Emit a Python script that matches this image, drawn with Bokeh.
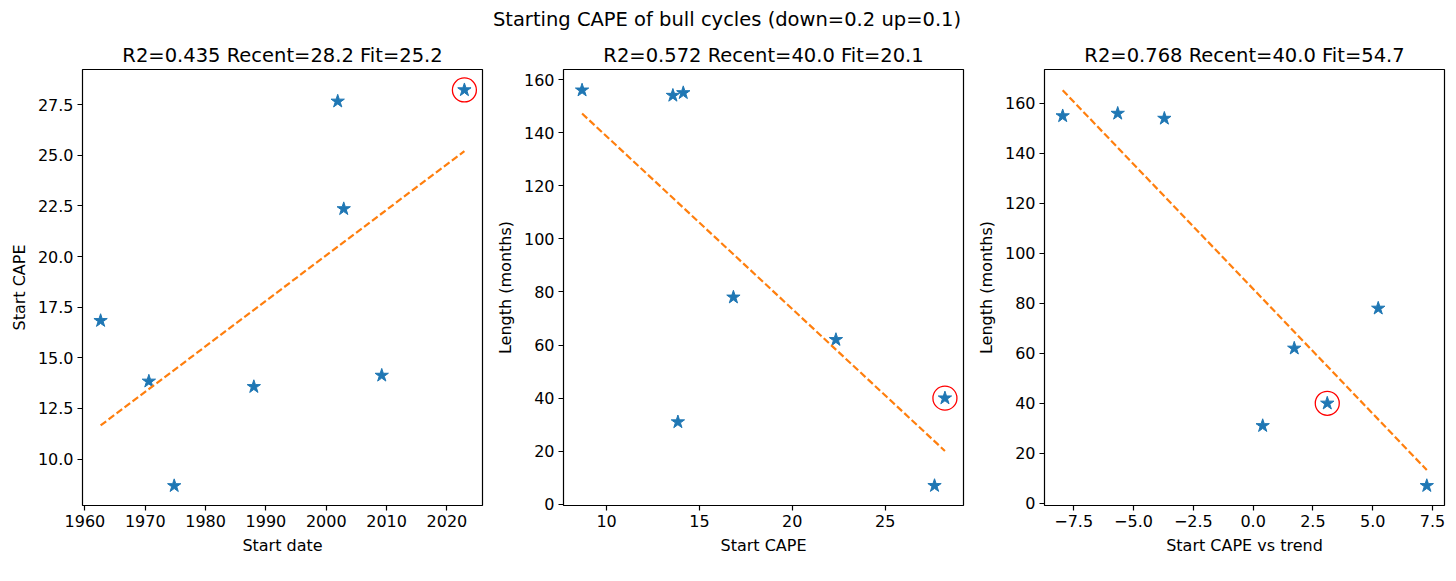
from bokeh.embed import file_html
from bokeh.resources import INLINE
from bokeh.layouts import row, column
from bokeh.models import Range1d, FixedTicker, Title, Div
from bokeh.plotting import figure

# bull cycles (last one is the recent cycle)
start_date = [1962.6, 1970.6, 1974.8, 1988.0, 2001.9, 2002.9, 2009.2, 2022.9]
start_cape = [16.83, 13.84, 8.68, 13.57, 27.66, 22.35, 14.13, 28.22]
length_months = [78, 31, 156, 154, 7, 62, 155, 40]
cape_vs_trend = [5.23, 0.40, -5.66, -3.71, 7.26, 1.72, -7.96, 3.10]

# fitted line end points
fit1_x = [1962.6, 2022.9]
fit1_y = [11.66, 25.2]
fit2_x = [8.68, 28.22]
fit2_y = [147.2, 20.1]
fit3_x = [-7.96, 7.26]
fit3_y = [165.3, 13.3]

titles = [
    "R2=0.435 Recent=28.2 Fit=25.2",
    "R2=0.572 Recent=40.0 Fit=20.1",
    "R2=0.768 Recent=40.0 Fit=54.7",
]
suptitle = "Starting CAPE of bull cycles (down=0.2 up=0.1)"

x1_ticks = [1960, 1970, 1980, 1990, 2000, 2010, 2020]
y1_ticks = [10.0, 12.5, 15.0, 17.5, 20.0, 22.5, 25.0, 27.5]
y1_labels = ["10.0", "12.5", "15.0", "17.5", "20.0", "22.5", "25.0", "27.5"]
x2_ticks = [10, 15, 20, 25]
len_ticks = [0, 20, 40, 60, 80, 100, 120, 140, 160]
x3_ticks = [-7.5, -5.0, -2.5, 0.0, 2.5, 5.0, 7.5]
x3_labels = ["\u22127.5", "\u22125.0", "\u22122.5", "0.0", "2.5", "5.0", "7.5"]

FONT = "DejaVu Sans"
BLUE = "#1f77b4"
ORANGE = "#ff7f0e"
TOP = 38


def panel(xs, ys, fx, fy, title, xlabel, ylabel, xr, yr, left, right):
    p = figure(
        frame_width=400, frame_height=436,
        x_range=Range1d(*xr), y_range=Range1d(*yr),
        min_border_left=left, min_border_right=right,
        min_border_top=68 - TOP, min_border_bottom=60,
        output_backend="svg", toolbar_location=None,
    )
    p.add_layout(Title(text=title, align="center", text_font=FONT,
                       text_font_size="19.5px", text_font_style="normal",
                       text_color="black", standoff=6), "above")
    p.grid.visible = False
    p.outline_line_color = "black"
    p.outline_line_alpha = 1
    p.outline_line_width = 1.2
    for ax in (p.xaxis[0], p.yaxis[0]):
        ax.axis_line_color = None
        ax.major_tick_in = 0
        ax.major_tick_out = 5
        ax.major_tick_line_width = 1.2
        ax.minor_tick_line_color = None
        ax.major_label_text_font = FONT
        ax.major_label_text_font_size = "16px"
        ax.major_label_text_color = "black"
        ax.major_label_standoff = 4
        ax.axis_label_text_font = FONT
        ax.axis_label_text_font_size = "16px"
        ax.axis_label_text_font_style = "normal"
        ax.axis_label_text_color = "black"
        ax.axis_label_standoff = 6
    p.xaxis.axis_label = xlabel
    p.yaxis.axis_label = ylabel

    p.scatter(xs, ys, marker="star", size=14, color=BLUE)
    p.line(fx, fy, line_color=ORANGE, line_width=2.2, line_dash="7 3")
    p.scatter([xs[-1]], [ys[-1]], marker="circle", size=24,
              fill_color=None, line_color="red", line_width=1.3)
    return p


p1 = panel(start_date, start_cape, fit1_x, fit1_y, titles[0],
           "Start date", "Start CAPE", (1959.6, 2025.9), (7.71, 29.23), 82, 10)
p1.xaxis.ticker = FixedTicker(ticks=x1_ticks)
p1.yaxis.ticker = FixedTicker(ticks=y1_ticks)
p1.yaxis.major_label_overrides = dict(zip(y1_ticks, y1_labels))

p2 = panel(start_cape, length_months, fit2_x, fit2_y, titles[1],
           "Start CAPE", "Length (months)", (7.68, 29.22), (-0.45, 163.8), 70, 10)
p2.xaxis.ticker = FixedTicker(ticks=x2_ticks)
p2.yaxis.ticker = FixedTicker(ticks=len_ticks)

p3 = panel(cape_vs_trend, length_months, fit3_x, fit3_y, titles[2],
           "Start CAPE vs trend", "Length (months)", (-8.72, 8.0), (-0.9, 173.6), 71, 11)
p3.xaxis.ticker = FixedTicker(ticks=x3_ticks)
p3.xaxis.major_label_overrides = dict(zip(x3_ticks, x3_labels))
p3.yaxis.ticker = FixedTicker(ticks=len_ticks)

head = Div(text=suptitle, width=1454, height=TOP, margin=(0, 0, 0, 0),
           styles={"font-family": FONT, "font-size": "19.5px", "color": "black",
                   "text-align": "center", "line-height": "%dpx" % (TOP + 2),
                   "width": "1454px"})

p = column(head, row(p1, p2, p3, spacing=0), spacing=0)

open("out.html", "w").write(file_html(p, INLINE))
